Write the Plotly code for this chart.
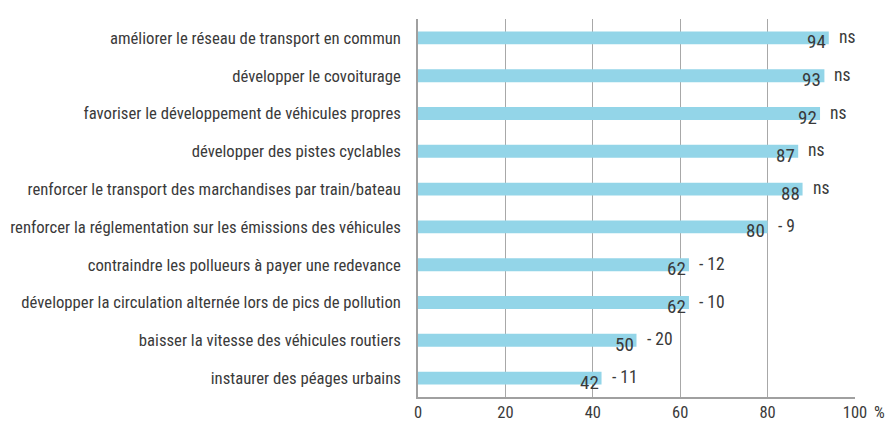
import plotly.graph_objects as go

# Survey items (top to bottom), share of agreement (%), and change/significance notes
categories = [
    "améliorer le réseau de transport en commun",
    "développer le covoiturage",
    "favoriser le développement de véhicules propres",
    "développer des pistes cyclables",
    "renforcer le transport des marchandises par train/bateau",
    "renforcer la réglementation sur les émissions des véhicules",
    "contraindre les pollueurs à payer une redevance",
    "développer la circulation alternée lors de pics de pollution",
    "baisser la vitesse des véhicules routiers",
    "instaurer des péages urbains",
]
values = [94, 93, 92, 87, 88, 80, 62, 62, 50, 42]
notes = ["ns", "ns", "ns", "ns", "ns", "- 9", "- 12", "- 10", "- 20", "- 11"]

tick_vals = [0, 20, 40, 60, 80, 100]
tick_text = ["0", "20", "40", "60", "80", "100"]

FONT = "Roboto Condensed, Roboto, sans-serif"
TEXT = "#3a3a3a"

fig = go.Figure(
    go.Bar(
        x=values,
        y=categories,
        orientation="h",
        width=0.34,
        marker=dict(color="#93d5e8", line=dict(width=0)),
        hoverinfo="skip",
    )
)

annotations = []
for cat, v, note in zip(categories, values, notes):
    # value printed at the inner end of the bar
    annotations.append(dict(
        x=v, y=cat, xref="x", yref="y", text=str(v), showarrow=False,
        xanchor="right", xshift=-1, yshift=-4,
        font=dict(family=FONT, size=19, color=TEXT),
    ))
    # significance / change note to the right of the bar
    annotations.append(dict(
        x=v, y=cat, xref="x", yref="y", text=note, showarrow=False,
        xanchor="left", xshift=8, yshift=1,
        font=dict(family=FONT, size=17.5, color=TEXT),
    ))

# percent sign after the last tick label
annotations.append(dict(
    x=100, y=0, xref="x", yref="paper", text="%", showarrow=False,
    xanchor="left", yanchor="top", xshift=17, yshift=-3,
    font=dict(family=FONT, size=17, color=TEXT),
))

fig.update_layout(
    width=893,
    height=421,
    margin=dict(l=418, r=38, t=19, b=24),
    paper_bgcolor="white",
    plot_bgcolor="white",
    showlegend=False,
    bargap=0.66,
    annotations=annotations,
    xaxis=dict(
        range=[0, 100],
        tickvals=tick_vals,
        ticktext=tick_text,
        showgrid=True,
        gridcolor="#a8a8a8",
        gridwidth=1,
        zeroline=False,
        showline=True,
        linecolor="#a0a0a0",
        linewidth=1.5,
        mirror=False,
        ticks="",
        automargin=False,
        ticklabelstandoff=-1,
        tickfont=dict(family=FONT, size=16.5, color=TEXT),
        fixedrange=True,
    ),
    yaxis=dict(
        categoryorder="array",
        categoryarray=categories[::-1],
        autorange=True,
        showgrid=False,
        zeroline=False,
        showline=True,
        linecolor="#a0a0a0",
        linewidth=1.5,
        ticks="",
        automargin=False,
        ticklabelstandoff=12,
        tickfont=dict(family=FONT, size=16.7, color=TEXT),
        fixedrange=True,
    ),
)

fig.write_html("out.html")
